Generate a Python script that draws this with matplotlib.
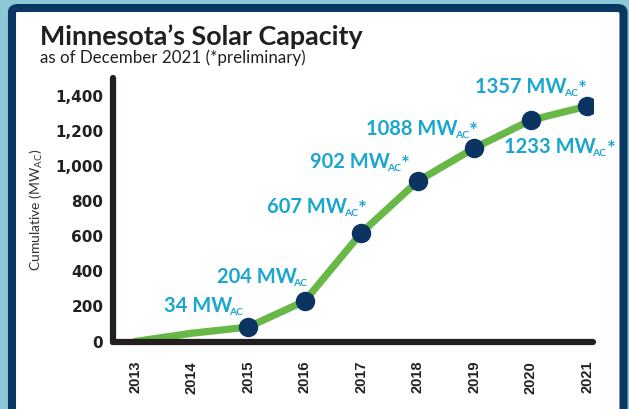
import matplotlib
matplotlib.use('Agg')
import matplotlib.pyplot as plt
from matplotlib.patches import FancyBboxPatch

years = [2013, 2014, 2015, 2016, 2017, 2018, 2019, 2020, 2021]
capacity = [0, 47, 82, 230, 618, 913, 1101, 1260, 1340]
marker_years = years[2:]
marker_capacity = capacity[2:]
point_labels = ['34', '204', '607', '902', '1088', '1233', '1357']
point_stars = [False, False, True, True, True, True, True]
yticks = [0, 200, 400, 600, 800, 1000, 1200, 1400]

# left edge / baseline of each label relative to its marker, in pixels
offsets = [(-84, 15), (-88, 18), (-94, 20), (-108, 13), (-108, 13), (-27, -33), (-112, 13)]

GREEN = '#67b846'
NAVY = '#0c3462'
CYAN = '#1aa6cf'
DARK = '#231f20'

W, H = 629, 409
fig = plt.figure(figsize=(W / 100, H / 100), dpi=100)
fig.patch.set_facecolor('#8cc8d6')

frame = FancyBboxPatch((12 / W, -10 / H), (623.5 - 12) / W, (H - 8 + 10) / H,
                       boxstyle='round,pad=0,rounding_size=0.01',
                       transform=fig.transFigure, facecolor='white',
                       edgecolor='#0b3862', linewidth=5.8, zorder=-1)
fig.add_artist(frame)

ax = fig.add_axes([113 / W, (H - 341.5) / H, (593 - 113) / W, (341.5 - 78) / H])
ax.set_facecolor('none')

ax.plot(years, capacity, color=GREEN, lw=5.2, solid_capstyle='round', zorder=2)
ax.plot(marker_years, marker_capacity, 'o', color=NAVY, ms=13, zorder=3)

for yr, val, lab, star, off in zip(marker_years, marker_capacity, point_labels, point_stars, offsets):
    main = ax.annotate(lab + ' MW', xy=(yr, val), xytext=off, textcoords='offset pixels',
                       ha='left', va='baseline', color=CYAN, fontsize=14.5,
                       family='Lato', fontweight='bold', zorder=4)
    sub = ax.annotate('AC', xy=(1, 0), xycoords=main, xytext=(-3, -1),
                      textcoords='offset pixels', ha='left', va='bottom',
                      color=CYAN, fontsize=7.5, family='Lato', fontweight='bold', zorder=4)
    if star:
        ax.annotate('*', xy=(1, 1), xycoords=(sub, main), xytext=(0, -3),
                    textcoords='offset pixels', ha='left', va='top',
                    color=CYAN, fontsize=15, family='Lato', fontweight='bold', zorder=4)

ax.set_xlim(2012.61, 2021.1)
ax.set_ylim(0, 1500)
ax.set_xticks(years)
ax.set_xticklabels([str(y) for y in years], rotation=90, fontsize=10.5,
                   fontweight='bold', family='Liberation Sans')
ax.set_yticks(yticks)
ax.set_yticklabels([f'{v:,}' for v in yticks], fontsize=11,
                   fontweight='bold', family='DejaVu Sans')
ax.tick_params(axis='both', length=0, colors=DARK)
ax.tick_params(axis='y', pad=7)
ax.tick_params(axis='x', pad=14)

for side in ['top', 'right']:
    ax.spines[side].set_visible(False)
for side in ['left', 'bottom']:
    ax.spines[side].set_linewidth(4.5)
    ax.spines[side].set_color(DARK)
    ax.spines[side].set_capstyle('round')

plt.rcParams['mathtext.fontset'] = 'custom'
plt.rcParams['mathtext.rm'] = 'Lato'
fig.text(36 / W, 1 - 210 / H, r'Cumulative (MW$_{\mathrm{AC}}$)', rotation=90,
         ha='center', va='center', fontsize=10, family='Lato', color='#333333')

fig.text(40 / W, 1 - 45 / H, 'Minnesota\u2019s Solar Capacity', ha='left',
         va='baseline', fontsize=19.4, fontweight='bold', family='Lato', color=DARK)
fig.text(40 / W, 1 - 63 / H, 'as of December 2021 (*preliminary)', ha='left',
         va='baseline', fontsize=12.2, family='Lato', color=DARK)

fig.savefig('out.png', dpi=100, facecolor=fig.get_facecolor())
